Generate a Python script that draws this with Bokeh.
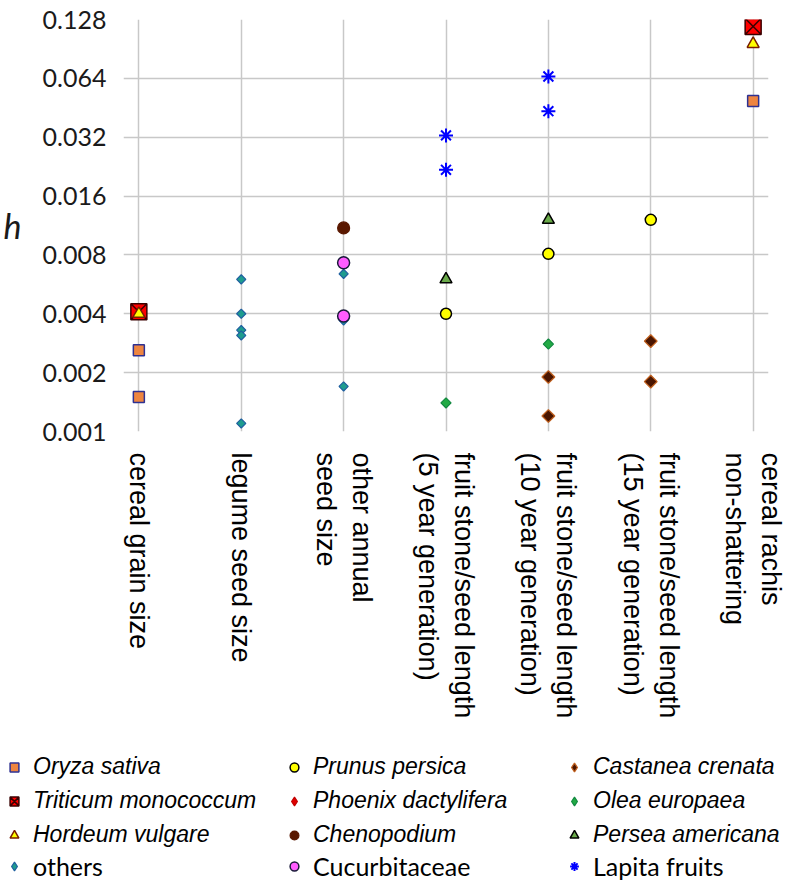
import math
from bokeh.plotting import figure
from bokeh.layouts import column
from bokeh.models import (Range1d, FixedTicker, PrintfTickFormatter, Legend,
                          LegendItem, ColumnDataSource)
from bokeh.embed import file_html
from bokeh.resources import INLINE

# ---------------- data ----------------
categories = [
    "cereal grain size",
    "legume seed size",
    "other annual\nseed size",
    "fruit stone/seed length\n(5 year generation)",
    "fruit stone/seed length\n(10 year generation)",
    "fruit stone/seed length\n(15 year generation)",
    "cereal rachis\nnon-shattering",
]
y_ticks = [0.001, 0.002, 0.004, 0.008, 0.016, 0.032, 0.064, 0.128]

oryza_cat = [0, 0, 6]
oryza_h = [0.0026, 0.0015, 0.049]
triticum_cat = [0, 6]
triticum_h = [0.0041, 0.118]
hordeum_cat = [0, 6]
hordeum_h = [0.0040, 0.096]
others_cat = [1, 1, 1, 1, 1, 2, 2, 2]
others_h = [0.0060, 0.0040, 0.0033, 0.0031, 0.0011, 0.0064, 0.0037, 0.0017]
prunus_cat = [3, 4, 5]
prunus_h = [0.0040, 0.0081, 0.0121]
phoenix_cat = []
phoenix_h = []
cheno_cat = [2]
cheno_h = [0.011]
cucurb_cat = [2, 2]
cucurb_h = [0.0073, 0.0039]
castanea_cat = [4, 4, 5, 5]
castanea_h = [0.0019, 0.0012, 0.0029, 0.0018]
olea_cat = [3, 4]
olea_h = [0.0014, 0.0028]
persea_cat = [3, 4]
persea_h = [0.0060, 0.0121]
lapita_cat = [3, 3, 4, 4]
lapita_h = [0.0327, 0.0218, 0.0654, 0.0435]

W = 790

# ---------------- main figure ----------------
p = figure(width=W, height=735,
           x_range=Range1d(-0.15, 6.15), y_range=Range1d(0.001, 0.128),
           y_axis_type="log", output_backend="svg", toolbar_location=None,
           min_border_left=122, min_border_right=22, min_border_top=19,
           min_border_bottom=304)
p.outline_line_color = None
p.background_fill_color = "white"
p.border_fill_color = "white"

grid_color = "#C8C8C8"
xa = p.xaxis[0]
xa.ticker = FixedTicker(ticks=list(range(len(categories))))
xa.major_label_overrides = {i: c for i, c in enumerate(categories)}
xa.major_label_orientation = -math.pi / 2
xa.major_label_text_font = "Liberation Sans"
xa.major_label_text_font_size = "27px"
xa.major_label_text_color = "black"
xa.major_label_standoff = 15
xa.axis_line_color = None
xa.major_tick_line_color = None
xa.minor_tick_line_color = None

ya = p.yaxis[0]
ya.ticker = FixedTicker(ticks=y_ticks)
ya.formatter = PrintfTickFormatter(format="%.3f")
ya.major_label_text_font = "Lato"
ya.major_label_text_font_size = "25px"
ya.major_label_text_color = "#1a1a1a"
ya.major_label_standoff = 11
ya.axis_line_color = None
ya.major_tick_line_color = None
ya.minor_tick_line_color = None
ya.axis_label = "h"
ya.axis_label_orientation = "horizontal"
ya.axis_label_text_font = "Lato"
ya.axis_label_text_font_style = "italic"
ya.axis_label_text_font_size = "34px"
ya.axis_label_text_color = "#1a1a1a"
ya.axis_label_standoff = 18

p.xgrid[0].ticker = FixedTicker(ticks=list(range(len(categories))))
p.ygrid[0].ticker = FixedTicker(ticks=y_ticks)
for g in (p.xgrid[0], p.ygrid[0]):
    g.grid_line_color = grid_color
    g.grid_line_width = 1.5

# ---------------- legend figure ----------------
lf = figure(width=W, height=149, x_range=Range1d(0, 1), y_range=Range1d(0, 1),
            output_backend="svg", toolbar_location=None,
            x_axis_location=None, y_axis_location=None, min_border=0)
lf.frame_align = False
lf.outline_line_color = None
lf.xgrid.visible = False
lf.ygrid.visible = False

D = math.pi / 4
NAN = float("nan")


def add(cat, h, marker, size, fill, line, lw=1.3, angle=0.0, leg_marker=None):
    src = ColumnDataSource(dict(x=cat, y=h))
    p.scatter("x", "y", source=src, size=size, marker=marker, angle=angle,
              fill_color=fill, line_color=line, line_width=lw)
    # legend swatch renderer (never drawn: no finite coordinates)
    swatch = ColumnDataSource(dict(x=[NAN], y=[NAN]))
    return lf.scatter("x", "y", source=swatch, size=size,
                      marker=leg_marker or marker,
                      fill_color=fill, line_color=line, line_width=lw)


r_oryza = add(oryza_cat, oryza_h, "square", 11, "#EE8540", "#2E3192", 1.5)
r_trit = add(triticum_cat, triticum_h, "square_x", 16, "#FF0000", "#3A0000", 1.5)
r_hord = add(hordeum_cat, hordeum_h, "triangle", 12, "#FFFF00", "#7A1E00", 1.5)
r_others = add(others_cat, others_h, "square", 6.5, "#1E9C8E", "#1F5FA0", 1.2, D, "diamond")
r_prunus = add(prunus_cat, prunus_h, "circle", 11, "#FFFF00", "#000000", 1.5)
r_phoenix = add(phoenix_cat, phoenix_h, "square", 7, "#E00000", "#C00000", 1.2, D, "diamond")
r_cheno = add(cheno_cat, cheno_h, "circle", 12, "#5A1800", "#5A1800", 1.2)
r_cucurb = add(cucurb_cat, cucurb_h, "circle", 12, "#FF5CFF", "#1A1A3A", 1.5)
r_cast = add(castanea_cat, castanea_h, "square", 9, "#4A1500", "#C0601E", 1.3, D, "diamond")
r_olea = add(olea_cat, olea_h, "square", 7.2, "#22AA44", "#118840", 1.2, D, "diamond")
r_persea = add(persea_cat, persea_h, "triangle", 12, "#6AAA4A", "#000000", 1.5)
r_lapita = add(lapita_cat, lapita_h, "asterisk", 14, None, "#0000FF", 2.0)

common = dict(glyph_width=22, glyph_height=22, label_standoff=8,
              label_width=243, label_height=22, spacing=7, padding=0,
              margin=0, border_line_color=None, background_fill_alpha=0,
              label_text_color="black")

leg_it = Legend(items=[
    LegendItem(label="Oryza sativa", renderers=[r_oryza]),
    LegendItem(label="Triticum monococcum", renderers=[r_trit]),
    LegendItem(label="Hordeum vulgare", renderers=[r_hord]),
    LegendItem(label="Prunus persica", renderers=[r_prunus]),
    LegendItem(label="Phoenix dactylifera", renderers=[r_phoenix]),
    LegendItem(label="Chenopodium", renderers=[r_cheno]),
    LegendItem(label="Castanea crenata", renderers=[r_cast]),
    LegendItem(label="Olea europaea", renderers=[r_olea]),
    LegendItem(label="Persea americana", renderers=[r_persea]),
], location=(3, 36), orientation="vertical", nrows=3,
    label_text_font="Liberation Sans", label_text_font_style="italic",
    label_text_font_size="23px", **common)

leg_n = Legend(items=[
    LegendItem(label="others", renderers=[r_others]),
    LegendItem(label="Cucurbitaceae", renderers=[r_cucurb]),
    LegendItem(label="Lapita fruits", renderers=[r_lapita]),
], location=(3, 3), orientation="horizontal",
    label_text_font="Lato", label_text_font_size="25px", **common)

lf.add_layout(leg_it, "center")
lf.add_layout(leg_n, "center")

layout = column(p, lf, spacing=0)
open("out.html", "w").write(file_html(layout, INLINE))
